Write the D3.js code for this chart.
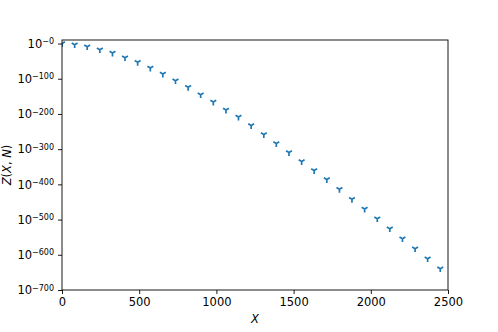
<!DOCTYPE html>
<html>
<head>
<meta charset="utf-8">
<script src="https://cdn.jsdelivr.net/npm/d3@7"></script>
<style>
  body { margin: 0; background: #fff; }
  text { font-family: "DejaVu Sans", sans-serif; }
</style>
</head>
<body>
<div id="chart"></div>
<script>
// sample positions X
var xValues = [0, 82, 163, 245, 327, 408, 490, 572, 653, 735, 817, 898, 980, 1062, 1143,
    1225, 1307, 1388, 1470, 1552, 1633, 1715, 1797, 1878, 1960, 2042, 2123, 2205, 2287, 2368, 2450];
// exponent of Z(X, N), i.e. log10 value
var zExponent = [0, -3.3, -9, -17.5, -26.9, -40.3, -53.3, -69.5, -86.6, -105.6, -124.3,
    -145.3, -166.1, -188.8, -208.7, -232.8, -258.4, -283.9, -309.5, -335.1, -360.6,
    -386.2, -414, -442.4, -470, -497.5, -525.9, -554.3, -582.7, -611.1, -639.5];
var xTicks = [0, 500, 1000, 1500, 2000, 2500];
var yTicks = [0, -100, -200, -300, -400, -500, -600, -700];

var margin = { top: 40, right: 50, bottom: 42, left: 62 },
    width = 498 - margin.left - margin.right,
    height = 332 - margin.top - margin.bottom;

var svg = d3.select("#chart").append("svg")
    .attr("width", 498)
    .attr("height", 332)
    .append("g")
    .attr("transform", `translate(${margin.left},${margin.top})`);

var x = d3.scaleLinear().domain([0, 2500]).range([0, width]);
var y = d3.scaleLinear().domain([-700, 10]).range([height, 0]);

svg.append("clipPath").attr("id", "clip")
    .append("rect").attr("width", width).attr("height", height);

// tri_down marker
var r = 3.4;
var tri = `M0,0L0,${r}M0,0L${-0.866 * r},${-0.5 * r}M0,0L${0.866 * r},${-0.5 * r}`;

svg.append("g").attr("clip-path", "url(#clip)")
    .selectAll("path")
    .data(xValues.map(function (d, i) { return [d, zExponent[i]]; }))
    .enter().append("path")
    .attr("transform", function (d) { return `translate(${x(d[0])},${y(d[1])})`; })
    .attr("d", tri)
    .attr("fill", "none")
    .attr("stroke", "#1f77b4")
    .attr("stroke-width", 1.7);

// x axis
var xAxis = svg.append("g")
    .attr("transform", `translate(0,${height})`)
    .call(d3.axisBottom(x).tickValues(xTicks).tickFormat(d3.format("d"))
        .tickSize(4).tickPadding(4).tickSizeOuter(0));
xAxis.selectAll("text").style("font-size", "11.5px").attr("fill", "#000");

// y axis with 10^-n labels
var yAxis = svg.append("g")
    .call(d3.axisLeft(y).tickValues(yTicks).tickSize(4).tickPadding(4).tickSizeOuter(0));
yAxis.selectAll(".tick text").each(function (d) {
    var t = d3.select(this).text(null).style("font-size", "11.5px").attr("fill", "#000");
    t.append("tspan").text("10");
    t.append("tspan").attr("dy", "-0.45em").style("font-size", "8px")
        .text("\u2212" + Math.abs(d));
});

svg.selectAll(".domain").remove();
svg.selectAll(".tick line").attr("stroke", "#000").attr("stroke-width", 0.9);

// frame
svg.append("rect")
    .attr("width", width).attr("height", height)
    .attr("fill", "none").attr("stroke", "#000").attr("stroke-width", 0.9);

// axis labels
svg.append("text")
    .attr("x", width / 2).attr("y", height + 33)
    .attr("text-anchor", "middle")
    .style("font-size", "11.5px").style("font-style", "italic")
    .text("X");

var yl = svg.append("text")
    .attr("transform", `translate(${-margin.left + 11},${height / 2}) rotate(-90)`)
    .attr("text-anchor", "middle")
    .style("font-size", "11.5px");
yl.append("tspan").style("font-style", "italic").text("Z");
yl.append("tspan").text("(");
yl.append("tspan").style("font-style", "italic").text("X");
yl.append("tspan").text(", ");
yl.append("tspan").style("font-style", "italic").text("N");
yl.append("tspan").text(")");
</script>
</body>
</html>
